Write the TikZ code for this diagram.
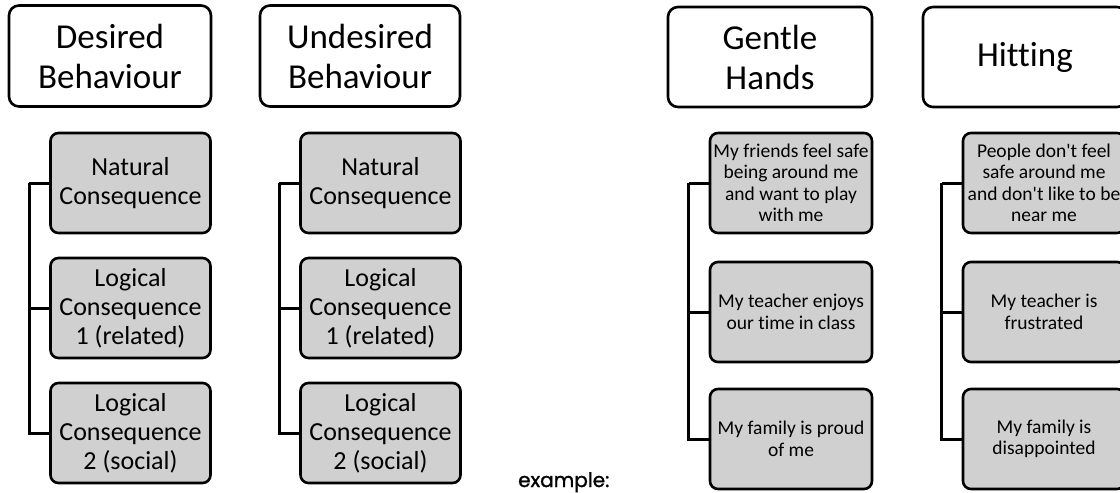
\documentclass[tikz,border=0pt]{standalone}
\usepackage{fontspec}
\setmainfont{Carlito}[Ligatures={NoCommon,TeXOff}]
\newfontfamily\handfont{Poppins}[FakeBold=1.2]
\usetikzlibrary{calc}
\definecolor{boxgray}{RGB}{208,208,208}
\tikzset{
  hdr/.style={draw=black, line width=2.6pt, rounded corners=10pt, fill=white, align=center,
    minimum height=101pt, inner sep=0pt, font=\fontsize{35}{40}\selectfont},
  kidL/.style={draw=black, line width=2.6pt, rounded corners=8pt, fill=boxgray, align=center,
    minimum width=160pt, minimum height=100pt, inner sep=0pt, font=\fontsize{26}{29}\selectfont},
  kidR/.style={draw=black, line width=2.6pt, rounded corners=8pt, fill=boxgray, align=center,
    minimum width=162pt, minimum height=100pt, inner sep=0pt, font=\fontsize{19.5}{21.5}\selectfont},
  conn/.style={draw=black, line width=3pt},
}
\begin{document}
\begin{tikzpicture}[x=1pt,y=-1pt]
\useasboundingbox (0,0) rectangle (1120,493);
\clip (0,0) rectangle (1120,493);
% group 1
\node[hdr, minimum width=202pt] (h1) at (110,56) {Desired\\Behaviour};
\node[kidL] (a1) at (130.5,183) {Natural\\Consequence};
\node[kidL] (a2) at (130.5,308) {Logical\\Consequence\\1 (related)};
\node[kidL] (a3) at (130.5,433) {Logical\\Consequence\\2 (social)};
% group 2
\node[hdr, minimum width=200pt] (h2) at (360,56) {Undesired\\Behaviour};
\node[kidL] (b1) at (380.5,183) {Natural\\Consequence};
\node[kidL] (b2) at (380.5,308) {Logical\\Consequence\\1 (related)};
\node[kidL] (b3) at (380.5,433) {Logical\\Consequence\\2 (social)};
% group 3
\node[hdr, minimum width=204pt, minimum height=100pt] (h3) at (770,57) {Gentle\\Hands};
\node[kidR] (c1) at (791,183) {My friends feel safe\\being around me\\and want to play\\with me};
\node[kidR] (c2) at (791,312) {My teacher enjoys\\our time in class};
\node[kidR] (c3) at (791,439) {My family is proud\\of me};
% group 4
\node[hdr, minimum width=204pt, minimum height=100pt] (h4) at (1025,57) {Hitting};
\node[kidR] (d1) at (1044,183) {People don't feel\\safe around me\\and don't like to be\\near me};
\node[kidR] (d2) at (1044,312) {My teacher is\\frustrated};
\node[kidR] (d3) at (1044,439) {My family is\\disappointed};
% connectors
\foreach \h/\p/\q/\r in {h1/a1/a2/a3, h2/b1/b2/b3, h3/c1/c2/c3, h4/d1/d2/d3}{
  \draw[conn] ($(\p.west)+(-20,0)$ |- \h.south) |- (\r.west);
  \draw[conn] (\p.west) -- ++(-20,0);
  \draw[conn] (\q.west) -- ++(-20,0);
}
\node[anchor=base west, inner sep=0pt, font=\handfont\fontsize{20}{24}\selectfont] (ex) at (518,487) {example:};
\end{tikzpicture}
\end{document}
